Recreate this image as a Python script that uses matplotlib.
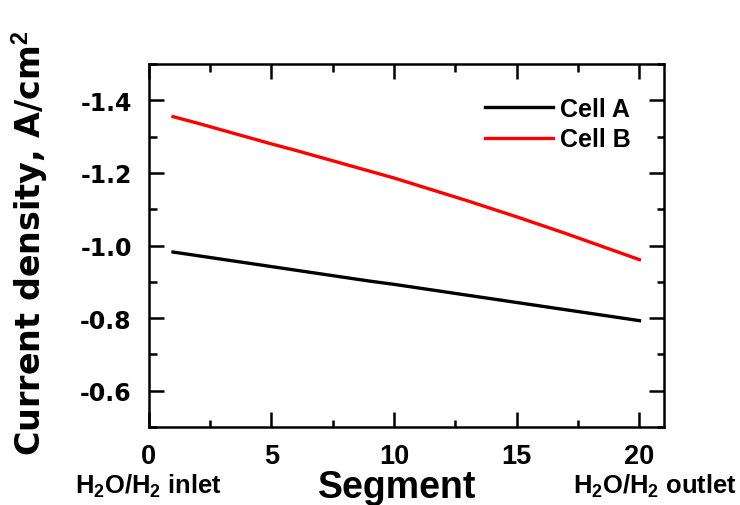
import matplotlib
matplotlib.use("Agg")
import matplotlib.pyplot as plt
from matplotlib.ticker import MultipleLocator, FormatStrFormatter

# ---- data ----
segments = [1, 2, 3, 4, 5, 6, 7, 8, 9, 10, 11, 12, 13, 14, 15, 16, 17, 18, 19, 20]
cell_a = [-0.982, -0.972, -0.962, -0.952, -0.942, -0.932, -0.922, -0.912, -0.902, -0.893,
          -0.883, -0.873, -0.863, -0.853, -0.843, -0.833, -0.823, -0.813, -0.803, -0.793]
cell_b = [-1.355, -1.337, -1.318, -1.299, -1.280, -1.262, -1.243, -1.224, -1.205, -1.186,
          -1.165, -1.144, -1.123, -1.101, -1.079, -1.056, -1.033, -1.009, -0.985, -0.961]
series_labels = ["Cell A", "Cell B"]
series_colors = ["#000000", "#ff0000"]
x_label = "Segment"
y_label = r"Current density, A/cm$^{\mathbf{2}}$"
inlet_label = r"H$_{\mathbf{2}}$O/H$_{\mathbf{2}}$ inlet"
outlet_label = r"H$_{\mathbf{2}}$O/H$_{\mathbf{2}}$ outlet"

plt.rcParams["axes.unicode_minus"] = False
plt.rcParams["mathtext.fontset"] = "custom"
plt.rcParams["mathtext.rm"] = "Liberation Sans:bold"
plt.rcParams["mathtext.bf"] = "Liberation Sans:bold"
plt.rcParams["mathtext.it"] = "Liberation Sans:bold"
plt.rcParams["font.family"] = ["Liberation Sans", "DejaVu Sans"]
plt.rcParams["font.weight"] = "bold"

W, H = 740, 506
fig = plt.figure(figsize=(W / 100, H / 100), dpi=100)
L, R, T, B = 148.5, 664, 65, 428
ax = fig.add_axes([L / W, 1 - B / H, (R - L) / W, (B - T) / H])

ax.plot(segments, cell_a, color=series_colors[0], lw=2.4, label=series_labels[0])
ax.plot(segments, cell_b, color=series_colors[1], lw=2.4, label=series_labels[1])

ax.set_xlim(0, 21)
ax.set_ylim(-0.5, -1.5)
ax.xaxis.set_major_locator(MultipleLocator(5))
ax.xaxis.set_minor_locator(MultipleLocator(2.5))
ax.yaxis.set_major_locator(MultipleLocator(0.2))
ax.yaxis.set_minor_locator(MultipleLocator(0.1))
ax.yaxis.set_major_formatter(FormatStrFormatter("%.1f"))

for s in ax.spines.values():
    s.set_linewidth(1.8)
ax.tick_params(which="both", direction="in", top=True, right=True, width=1.8)
ax.tick_params(which="major", length=10.8)
ax.tick_params(which="minor", length=5.4)
ax.tick_params(axis="x", which="major", pad=11.5, labelsize=19.5)
ax.tick_params(axis="y", which="major", pad=12, labelsize=17)
for lab in ax.get_xticklabels():
    lab.set_fontweight("bold")
    lab.set_family(["Liberation Sans"])
for lab in ax.get_yticklabels():
    lab.set_fontweight("bold")
    lab.set_family(["DejaVu Sans"])

ax.set_xlabel(x_label, fontsize=27, fontweight="bold")
ax.xaxis.set_label_coords((396.7 - L) / (R - L), (B - 470.5) / (B - T))

fig.text(30 / W, 1 - 243 / H, y_label, rotation=90, ha="center", va="center",
         fontsize=24, fontweight="bold", family=["DejaVu Sans"])

fig.text(75 / W, 1 - 494 / H, inlet_label, ha="left", va="baseline",
         fontsize=18.4, fontweight="bold")
fig.text(737 / W, 1 - 494 / H, outlet_label, ha="right", va="baseline",
         fontsize=18.4, fontweight="bold")

leg = ax.legend(loc="upper left", bbox_to_anchor=((485 - L) / (R - L), (B - 98) / (B - T)),
                frameon=False, prop={"size": 18, "weight": "bold"},
                handlelength=2.7, handletextpad=0.3, labelspacing=0.25,
                borderpad=0, borderaxespad=0)

fig.savefig("out.png", dpi=100)
